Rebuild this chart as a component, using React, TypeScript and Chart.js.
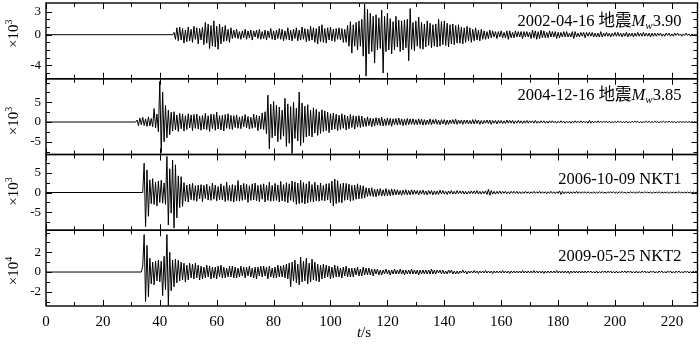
import React, { useEffect, useRef } from "react";
import { Chart, registerables } from "chart.js";
Chart.register(...registerables);

// ---- axis ticks ----
const xLabelTicks = [0, 20, 40, 60, 80, 100, 120, 140, 160, 180, 200, 220];
const xTickMarks = [0, 10, 20, 30, 40, 50, 60, 70, 80, 90, 100, 110, 120, 130, 140, 150, 160, 170, 180, 190, 200, 210, 220];
const xMin = 0;
const xMax = 229;

const yMins = [-5.74, -8.25, -9.53, -3.45];
const yMaxs = [4.13, 10.98, 9.6, 4.24];
const yLabelTicks = [[3, 0, -4], [5, 0, -5], [5, 0, -5], [2, 0, -2]];
const yTickMarks = [
  [3, 2, 1, 0, -1, -2, -3, -4, -5],
  [10, 7.5, 5, 2.5, 0, -2.5, -5, -7.5],
  [7.5, 5, 2.5, 0, -2.5, -5, -7.5],
  [4, 3, 2, 1, 0, -1, -2, -3],
];
const yExponents = ["3", "3", "3", "4"];

// ---- event labels ----
const eventDates = ["2002-04-16", "2004-12-16", "2006-10-09", "2009-05-25"];
const eventNames = ["地震", "地震", "NKT1", "NKT2"];
const eventMagnitudes = ["3.90", "3.85", "", ""];

// ---- waveforms (sampled every 0.5 s after onset; zero before onset) ----
const sampleStep = 0.5;
const onsets = [44.5, 31.5, 34, 33.5];

const wave1 = [
  0.3, -0.6, 0.9, -0.8, 1.0, -0.7, 0.8, -1.1, 0.6, -0.9, 1.0,
  -0.8, 0.7, -1.0, 1.1, -0.6, 0.9, -1.2, 0.8, -0.7, 1.0,
  -1.3, 1.6, -1.1, 1.4, -1.8, 1.2, -1.5, 1.8, -1.6, 1.1, -1.9, 1.4,
  -1.2, 1.0, -0.9, 1.2, -0.8, 0.7, -1.0, 0.9,
  -0.5, 0.6, -0.4, 0.7, -0.5, 0.4, -0.6, 0.5, -0.4, 0.7, -0.6, 0.5, -0.4, 0.6, -0.7, 0.5, -0.3, 0.6, -0.5, 0.7, -0.6, 0.4, -0.5, 0.6, -0.7, 0.5, -0.4, 0.8, -0.6, 0.5,
  -0.7, 0.6, -0.5, 0.8, -0.6, 0.7, -0.8, 0.5, -0.6, 0.9, -0.7, 0.6, -0.8, 0.7, -0.5, 0.9, -0.8, 0.6, -0.7, 1.0, -0.6, 0.8, -0.9, 0.7, -0.8, 1.1, -0.7, 0.9, -1.0, 0.8,
  -1.2, 1.1, -0.9, 1.3, -1.0, 0.8, -1.1, 0.9, -0.7, 1.0, -0.8, 0.7, -0.9, 0.8, -0.6, 0.9, -0.7, 0.8, -1.0, 0.7,
  -1.0, 1.2, -1.5, 1.7, -2.4, 1.3, -1.5, 1.6, -2.0, 1.8,
  -1.5, 2.0, -2.8, 4.0, -5.4, 3.3, -2.5, 2.8, -2.2, 2.4, -3.7, 2.6, -2.0, 2.2, -1.8, 3.2, -5.0, 2.4, -2.2, 2.8,
  -2.0, 2.1, -2.5, 1.7, -2.0, 2.4, -1.6, 1.9, -2.2, 1.8, -2.0, 1.9, -1.7, 2.0, -3.4, 3.4, -1.9, 1.6, -2.1, 1.8,
  -1.5, 2.3, -1.8, 1.6, -1.9, 1.4, -1.6, 1.8, -1.4, 1.5, -1.7, 1.3, -1.5, 1.4,
  -1.6, 2.0, -1.5, 1.7, -1.3, 1.8, -1.4, 1.5, -1.6, 1.3, -1.2, 1.4, -1.3, 1.2, -1.1, 1.3,
  -1.1, 1.0, -1.2, 0.9, -1.0, 1.1, -0.8, 0.9, -1.0, 0.7, -0.8, 0.9, -0.7, 0.6, -0.8, 0.7,
  -0.6, 0.5, -0.6, 0.4, -0.5, 0.6, -0.4, 0.5, -0.3, 0.4, -0.5, 0.4, -0.3, 0.5, -0.4, 0.3, -0.4, 0.5, -0.6, 0.5, -0.4, 0.3, -0.4, 0.5, -0.3, 0.4, -0.3, 0.4, -0.5, 0.4, -0.3, 0.4, -0.3, 0.3,
  -0.5, 0.6, -0.4, 0.5, -0.6, 0.4, -0.5, 0.6, -0.4, 0.5, -0.4, 0.3, -0.4, 0.5, -0.3, 0.4, -0.3, 0.4, -0.5, 0.3, -0.4, 0.3, -0.3, 0.4,
  -0.3, 0.4, -0.3, 0.2, -0.3, 0.4, -0.5, 0.4, -0.3, 0.2, -0.3, 0.3, -0.2, 0.3, -0.4, 0.3, -0.2, 0.3, -0.2, 0.3, -0.3, 0.2, -0.3, 0.2, -0.3, 0.4, -0.3, 0.2, -0.2, 0.3, -0.2, 0.2, -0.3, 0.2, -0.2, 0.3,
  -0.2, 0.3, -0.2, 0.2, -0.3, 0.2, -0.2, 0.3, -0.3, 0.2, -0.2, 0.2, -0.3, 0.2, -0.2, 0.3, -0.2, 0.2, -0.2, 0.3, -0.2, 0.2, -0.2, 0.2, -0.3, 0.2, -0.2, 0.2, -0.2, 0.2,
  -0.1, 0.2, -0.2, 0.1, -0.2, 0.2, -0.1, 0.2, -0.2, 0.1, -0.2, 0.2, -0.1, 0.2, -0.1, 0.1, -0.2, 0.1, -0.1, 0.2, -0.1, 0.1, -0.2, 0.1, -0.1, 0.1, -0.1, 0.1, -0.1, 0.1,
];

const wave2 = [
  0.5, -0.9, 1.0, -0.7, 1.2, -0.9, 0.8, -1.1, 1.3, -1.0, 0.9, -1.2,
  3.4, -1.5, 2.0, -2.5,
  10.3, -7.8, 7.6, -5.0, 4.2, -4.0, 3.0, -3.2, 2.5,
  -2.3, 2.6, -2.0, 1.8, -2.4, 2.2, -1.7, 2.0, -2.3, 1.6, -1.9, 2.1, -1.5, 1.8, -2.2, 1.9, -1.6, 2.0, -1.8, 1.5, -2.1, 1.7,
  -1.8, 2.2, -1.9, 1.6, -2.4, 2.0, -1.7, 1.9, -2.1, 2.5, -1.8, 1.6, -2.0, 1.7, -2.3, 1.9, -1.6, 2.1, -1.8, 1.7,
  -1.9, 1.6, -1.4, 1.8, -1.6, 1.3, -1.7, 1.5, -1.2, 1.9, -1.5, 1.4, -1.8, 1.2, -1.6, 2.0, -1.4, 1.7, -2.2, 1.5, -1.8, 2.3, -1.9, 2.6,
  -3.0, 6.8, -6.8, 4.5, -4.0, 5.2, -3.5, 4.2, -5.0, 3.8, -4.4, 3.0, -3.6, 6.0, -6.2, 4.6, -5.4, 3.9, -8.0, 5.0, -4.2, 3.5, -4.8, 7.6, -6.0, 4.8, -5.2, 4.0, -3.8, 4.4,
  -3.5, 3.0, -3.8, 3.6, -2.8, 3.2, -3.4, 2.6, -2.9, 3.1, -2.4, 2.8, -2.2, 2.5, -2.7, 2.1,
  -2.0, 2.3, -1.8, 2.0, -2.2, 1.7, -1.9, 2.1, -1.6, 1.8, -2.0, 1.5, -1.7, 1.9, -1.4, 1.6, -1.8, 1.5, -1.3, 1.6, -1.4, 1.5,
  -1.2, 1.0, -1.1, 1.3, -0.9, 1.0, -1.2, 0.9, -1.0, 1.1, -0.8, 1.0, -0.9, 1.2, -1.0, 0.8, -0.9, 1.0, -0.8, 0.9, -1.1, 0.8, -0.7, 0.9, -0.8, 1.0, -0.7, 0.8, -0.9, 0.7, -0.8, 0.9, -0.7, 0.8, -0.6, 0.8, -0.7, 0.6,
  -0.7, 0.8, -0.6, 0.7, -0.8, 0.6, -0.7, 0.5, -0.6, 0.8, -0.7, 0.6, -0.5, 0.7, -0.6, 0.5, -0.7, 0.6, -0.5, 0.6, -0.7, 0.5, -0.6, 0.5, -0.4, 0.6, -0.5, 0.7, -0.6, 0.5, -0.4, 0.5, -0.6, 0.5, -0.4, 0.5, -0.5, 0.4, -0.5, 0.6,
  -0.5, 0.6, -0.4, 0.5, -0.6, 0.4, -0.5, 0.4, -0.3, 0.5, -0.4, 0.5, -0.6, 0.4, -0.3, 0.4, -0.5, 0.4, -0.3, 0.4, -0.4, 0.3, -0.4, 0.5, -0.3, 0.4, -0.3, 0.4, -0.4, 0.3, -0.3, 0.4, -0.3, 0.3, -0.4, 0.3, -0.3, 0.4, -0.3, 0.3, -0.2, 0.3, -0.3, 0.4, -0.3, 0.2, -0.3, 0.3, -0.2, 0.3,
  -0.3, 0.2, -0.3, 0.3, -0.2, 0.3, -0.2, 0.2, -0.3, 0.2, -0.2, 0.3, -0.2, 0.2, -0.3, 0.2, -0.2, 0.2, -0.3, 0.2, -0.2, 0.3, -0.2, 0.2, -0.2, 0.3, -0.2, 0.2, -0.2, 0.2, -0.3, 0.4, -0.3, 0.2, -0.2, 0.2, -0.2, 0.3, -0.2, 0.2, -0.2, 0.2, -0.1, 0.2, -0.2, 0.2, -0.2, 0.1, -0.2, 0.2,
  -0.2, 0.2, -0.1, 0.2, -0.2, 0.1, -0.2, 0.2, -0.2, 0.1, -0.2, 0.2, -0.1, 0.2, -0.1, 0.2, -0.2, 0.1, -0.2, 0.1, -0.1, 0.2, -0.1, 0.2, -0.2, 0.1, -0.1, 0.2, -0.1, 0.1, -0.2, 0.1, -0.1, 0.2, -0.1, 0.1, -0.1, 0.2, -0.1, 0.1, -0.1, 0.1, -0.2, 0.1, -0.1, 0.1, -0.1, 0.1, -0.1, 0.1, -0.1, 0.1, -0.1, 0.1, -0.1, 0.1, -0.1, 0.1, -0.1, 0.1,
];

const wave3 = [
  7.4, -8.6, 5.7, -6.0,
  3.2, -2.8, 3.5, -3.0, 2.6, -3.4, 2.9, -2.5, 3.1, -2.7, 2.4,
  -3.0, 9.1, -8.2, 6.0, -5.2, 8.2, -9.0, 7.0, -6.4,
  4.2, -3.8, 4.0, -3.5,
  2.5, -2.2, 1.9, -2.4, 2.1, -1.8, 2.3, -2.0, 1.7, -2.2, 1.9, -1.6, 2.0, -2.3, 1.8, -1.5, 2.1, -1.9, 1.6, -2.0, 2.4, -1.7, 1.9, -2.1, 1.5, -1.8, 2.2, -1.9, 1.7, -2.3, 2.6, -2.0, 1.8, -2.2,
  2.0, -2.4, 1.8, -2.1, 3.0, -2.2, 1.9, -2.0, 2.3, -1.8, 2.1, -2.5, 1.7, -2.0, 2.2, -1.9, 2.4, -2.1, 1.8, -2.3, 2.0, -1.7, 2.2, -2.4, 1.9, -2.0, 2.6, -2.2, 1.8, -2.1, 2.3, -2.0, 1.9, -2.4, 2.8, -2.1, 2.0, -2.3, 2.5, -2.6, 2.2, -2.0, 2.9, -2.4,
  2.7, -3.0, 2.4, -2.8, 3.1, -2.6, 2.5, -2.9, 2.2, -2.6, 2.8, -2.3, 2.0, -2.4, 2.6, -2.1, 1.9, -2.2, 2.4, -2.0, 1.8, -2.1, 2.2, -1.9, 2.3, -2.6,
  2.9, -3.4, 3.4, -2.8, 3.0, -2.5, 2.2, -2.6, 2.4, -2.0, 2.3, -1.9, 2.1, -2.2, 1.8, -2.0, 1.9, -1.7, 2.2, -1.6, 1.8, -1.5, 1.7, -1.4,
  1.2, -1.0, 1.1, -0.9, 1.2, -1.0, 0.8, -1.1, 0.9, -0.8, 1.0, -0.9, 0.7, -0.9, 1.0, -0.8, 0.7, -0.8, 0.9, -0.7, 0.8, -0.6,
  0.7, -0.6, 0.5, -0.7, 0.6, -0.5, 0.7, -0.6, 0.5, -0.6, 0.7, -0.5, 0.6, -0.4, 0.5, -0.6, 0.5, -0.4, 0.6, -0.5, 0.4, -0.6, 0.5, -0.4, 0.5, -0.6, 0.4, -0.5, 0.4, -0.5, 0.6, -0.4, 0.5, -0.4, 0.3, -0.5, 0.4, -0.3, 0.5, -0.4, 0.3, -0.4, 0.5, -0.3, 0.4, -0.3, 0.4, -0.4, 0.3, -0.4, 0.3, -0.3, 0.4, -0.3,
  0.4, -0.3, 0.5, -0.4, 0.3, -0.4, 0.3, -0.3, 0.4, -0.5, 0.8, -0.7, 0.5, -0.4, 0.3, -0.4, 0.3, -0.3, 0.4, -0.3, 0.3, -0.2, 0.3, -0.3, 0.2, -0.3, 0.3, -0.2, 0.3, -0.2, 0.3, -0.3, 0.2, -0.3, 0.2, -0.2, 0.3, -0.2, 0.2, -0.3, 0.2, -0.2, 0.3, -0.2, 0.2, -0.2, 0.3, -0.2, 0.2, -0.2,
  0.2, -0.3, 0.2, -0.2, 0.3, -0.2, 0.2, -0.3, 0.2, -0.2, 0.4, -0.5, 0.3, -0.3, 0.2, -0.2, 0.2, -0.3, 0.2, -0.2, 0.2, -0.2, 0.3, -0.2, 0.2, -0.2, 0.2, -0.1, 0.2, -0.2, 0.2, -0.2, 0.1, -0.2, 0.2, -0.2, 0.1, -0.2, 0.2, -0.1, 0.2, -0.2, 0.1, -0.2, 0.2, -0.1, 0.2, -0.1, 0.2, -0.2,
  0.1, -0.2, 0.2, -0.1, 0.2, -0.1, 0.1, -0.2, 0.1, -0.1, 0.2, -0.1, 0.1, -0.2, 0.1, -0.1, 0.2, -0.1, 0.1, -0.1, 0.2, -0.1, 0.1, -0.1, 0.1, -0.2, 0.1, -0.1, 0.1, -0.1, 0.2, -0.1, 0.1, -0.1, 0.1, -0.1, 0.1, -0.2, 0.1, -0.1, 0.1, -0.1, 0.1, -0.1, 0.2, -0.1, 0.1, -0.1, 0.1, -0.1, 0.1, -0.1, 0.1, -0.1, 0.1, -0.1, 0.1, -0.1, 0.1, -0.1,
];

const wave4 = [
  0.6, 3.8, -3.0, 2.7,
  -2.5, 1.4, -1.2, 1.0, -1.3, 1.1, -0.9, 1.2, -1.0,
  1.1, -2.4, 1.6, -1.8, 3.8, -3.4, 2.0,
  -1.9, 1.2, -1.5, 1.3, -1.1, 1.2, -0.9,
  1.0, -0.8, 0.9, -1.0, 0.7, -0.8, 0.9, -0.6, 0.8, -0.7, 0.9, -0.6, 0.7, -0.8, 0.6, -0.7, 0.5, -0.6, 0.7, -0.5, 0.6, -0.7, 0.5, -0.6, 0.5, -0.7, 0.6, -0.5, 0.7, -0.6, 0.5, -0.6, 0.4, -0.5, 0.6, -0.5, 0.6, -0.6,
  0.5, -0.6, 0.4, -0.5, 0.6, -0.4, 0.5, -0.6, 0.5, -0.4, 0.6, -0.5, 0.4, -0.6, 0.5, -0.7, 0.5, -0.4, 0.6, -0.5, 0.6, -0.4, 0.5, -0.7, 0.6, -0.5, 0.4, -0.6, 0.5, -0.6, 0.7, -0.5, 0.6, -0.5, 0.7, -0.6, 0.8, -0.7, 0.9,
  -1.5, 1.0, -0.9, 1.2, -1.1, 0.8, -1.3, 1.5, -1.0, 1.1, -0.9, 1.4, -1.2, 0.9, -1.0, 1.3, -0.8, 1.0, -0.9, 0.8, -1.0, 0.7,
  -0.7, 0.8, -0.6, 0.7, -0.5, 0.6, -0.7, 0.5, -0.6, 0.7, -0.5, 0.6, -0.5, 0.4, -0.6, 0.5, -0.4, 0.6, -0.5, 0.4, -0.5, 0.4,
  -0.5, 0.4, -0.3, 0.5, -0.4, 0.3, -0.4, 0.5, -0.3, 0.4, -0.3, 0.4, -0.3, 0.3, -0.4, 0.3, -0.2, 0.3, -0.3, 0.2, -0.3, 0.2, -0.2, 0.3,
  -0.2, 0.2, -0.3, 0.2, -0.2, 0.3, -0.2, 0.2, -0.2, 0.3, -0.2, 0.2, -0.3, 0.2, -0.2, 0.2, -0.2, 0.3, -0.2, 0.2, -0.2, 0.2, -0.3, 0.2, -0.2, 0.2, -0.2, 0.2, -0.2, 0.2,
  -0.2, 0.3, -0.2, 0.2, -0.2, 0.2, -0.1, 0.2, -0.2, 0.2, -0.2, 0.1, -0.2, 0.2, -0.1, 0.2, -0.2, 0.1, -0.2, 0.1, -0.2, 0.1, -0.1, 0.2, -0.1, 0.1, -0.2, 0.1, -0.1, 0.1,
  -0.1, 0.15, -0.1, 0.1, -0.15, 0.1, -0.1, 0.1, -0.1, 0.15, -0.1, 0.1, -0.1, 0.1, -0.15, 0.1, -0.1, 0.1, -0.1, 0.1, -0.1, 0.15, -0.1, 0.1, -0.1, 0.1, -0.15, 0.1, -0.1, 0.1, -0.1, 0.1, -0.1, 0.1, -0.1, 0.15, -0.1, 0.1, -0.1, 0.1,
  -0.1, 0.1, -0.1, 0.15, -0.1, 0.1, -0.1, 0.1, -0.1, 0.1, -0.15, 0.1, -0.1, 0.1, -0.1, 0.1, -0.1, 0.1, -0.1, 0.15, -0.1, 0.1, -0.1, 0.1, -0.1, 0.1, -0.1, 0.1, -0.15, 0.1, -0.1, 0.1, -0.1, 0.1, -0.1, 0.1, -0.1, 0.1, -0.1, 0.1,
  -0.1, 0.1, -0.05, 0.1, -0.1, 0.05, -0.1, 0.1, -0.1, 0.05, -0.1, 0.1, -0.05, 0.1, -0.1, 0.1, -0.05, 0.1, -0.1, 0.05, -0.1, 0.1, -0.1, 0.05, -0.1, 0.1, -0.05, 0.1, -0.1, 0.1, -0.05, 0.1, -0.1, 0.05, -0.1, 0.1, -0.1, 0.05, -0.1, 0.1,
  -0.05, 0.1, -0.1, 0.05, -0.1, 0.1, -0.05, 0.1, -0.1, 0.05, -0.1, 0.1, -0.05, 0.1, -0.1, 0.05, -0.1, 0.1, -0.05, 0.1, -0.1, 0.05, -0.1, 0.1, -0.05, 0.1, -0.1, 0.05, -0.1, 0.1, -0.05, 0.1, -0.1, 0.05, -0.1, 0.1, -0.05, 0.1, -0.1, 0.05,
];

const waves = [wave1, wave2, wave3, wave4];

const SERIF = '"Liberation Serif", "Noto Sans CJK SC", serif';
const f = (style: string, size: number) => `${style} ${size}px ${SERIF}`;

function drawParts(ctx: CanvasRenderingContext2D, parts: { t: string; font: string; dy?: number }[], rightX: number, baseY: number) {
  let total = 0;
  parts.forEach((p) => {
    ctx.font = p.font;
    total += ctx.measureText(p.t).width;
  });
  let x = rightX - total;
  parts.forEach((p) => {
    ctx.font = p.font;
    ctx.fillText(p.t, x, baseY + (p.dy || 0));
    x += ctx.measureText(p.t).width;
  });
}

const panelPlugin = {
  id: "panelFrames",
  afterDraw(chart: any) {
    const ctx: CanvasRenderingContext2D = chart.ctx;
    const { left, right } = chart.chartArea;
    const xs = chart.scales.x;
    ctx.save();
    ctx.strokeStyle = "#000";
    ctx.fillStyle = "#000";
    ctx.textAlign = "left";
    ctx.textBaseline = "alphabetic";
    for (let k = 0; k < 4; k++) {
      const s = chart.scales["y" + (k + 1)];
      const top = s.top;
      const bottom = s.bottom;
      ctx.lineWidth = 1.4;
      ctx.strokeRect(left, top, right - left, bottom - top);
      ctx.lineWidth = 1;
      ctx.beginPath();
      xTickMarks.forEach((v) => {
        const px = Math.round(xs.getPixelForValue(v)) + 0.5;
        const len = v % 20 === 0 ? 6 : 4;
        ctx.moveTo(px, top);
        ctx.lineTo(px, top + len);
        ctx.moveTo(px, bottom);
        ctx.lineTo(px, bottom - len);
      });
      yTickMarks[k].forEach((v) => {
        const py = Math.round(s.getPixelForValue(v)) + 0.5;
        const len = yLabelTicks[k].includes(v) ? 6 : 4;
        ctx.moveTo(left, py);
        ctx.lineTo(left + len, py);
        ctx.moveTo(right, py);
        ctx.lineTo(right - len, py);
      });
      ctx.stroke();

      // y title ×10^n
      const cy = s.getPixelForValue(0) - 1;
      ctx.save();
      ctx.translate(14, cy);
      ctx.rotate(-Math.PI / 2);
      ctx.textBaseline = "middle";
      ctx.font = f("normal", 15);
      const w1 = ctx.measureText("×10").width;
      ctx.font = f("normal", 10);
      const w2 = ctx.measureText(yExponents[k]).width;
      const sx = -(w1 + w2) / 2;
      ctx.font = f("normal", 15);
      ctx.fillText("×10", sx, 0);
      ctx.font = f("normal", 10);
      ctx.fillText(yExponents[k], sx + w1, -5);
      ctx.restore();

      // event label
      const baseOffsets = [23, 21, 29, 31];
      const parts: { t: string; font: string; dy?: number }[] = [
        { t: eventDates[k] + " " + eventNames[k], font: f("normal", 16.5) },
      ];
      if (eventMagnitudes[k]) {
        parts.push({ t: "M", font: f("italic", 16.5) });
        parts.push({ t: "w", font: f("italic", 11), dy: 3 });
        parts.push({ t: eventMagnitudes[k], font: f("normal", 16.5) });
      }
      drawParts(ctx, parts, right - 16, top + baseOffsets[k]);
    }
    // x axis title
    ctx.font = f("italic", 15);
    const wt = ctx.measureText("t").width;
    ctx.font = f("normal", 15);
    const ws = ctx.measureText("/s").width;
    const cx = 364 - (wt + ws) / 2;
    ctx.font = f("italic", 15);
    ctx.fillText("t", cx, 337);
    ctx.font = f("normal", 15);
    ctx.fillText("/s", cx + wt, 337);
    ctx.restore();
  },
};

export default function App() {
  const ref = useRef<HTMLCanvasElement | null>(null);
  useEffect(() => {
    if (!ref.current) return;
    const datasets = waves.map((w, k) => ({
      data: [
        { x: 0, y: 0 },
        { x: onsets[k], y: 0 },
        ...w.map((v, i) => ({ x: onsets[k] + (i + 1) * sampleStep, y: v })),
      ],
      yAxisID: "y" + (k + 1),
      borderColor: "#000",
      borderWidth: 1,
      pointRadius: 0,
      tension: 0,
      fill: false,
    }));
    const yScale = (k: number) => ({
      type: "linear" as const,
      position: "left" as const,
      stack: "panels",
      stackWeight: 1,
      weight: 4 - k,
      min: yMins[k],
      max: yMaxs[k],
      grid: { display: false, drawTicks: false },
      border: { display: false },
      afterBuildTicks: (scale: any) => {
        scale.ticks = yLabelTicks[k].map((v) => ({ value: v }));
      },
      afterFit: (scale: any) => {
        scale.width = 46;
        scale.paddingTop = 0;
        scale.paddingBottom = 0;
      },
      ticks: {
        padding: 5,
        color: "#000",
        font: { family: SERIF, size: 13 },
        callback: (v: any) => String(v),
      },
    });
    const chart = new Chart(ref.current, {
      type: "line",
      data: { datasets },
      plugins: [panelPlugin],
      options: {
        responsive: false,
        animation: false,
        devicePixelRatio: 1,
        layout: { padding: { top: 3, right: 2.5, left: 0, bottom: 0 } },
        plugins: { legend: { display: false }, tooltip: { enabled: false } },
        scales: {
          x: {
            type: "linear",
            min: xMin,
            max: xMax,
            grid: { display: false, drawTicks: false },
            border: { display: false },
            afterBuildTicks: (scale: any) => {
              scale.ticks = xLabelTicks.map((v) => ({ value: v }));
            },
            afterFit: (scale: any) => {
              scale.height = 40;
              scale.paddingLeft = 0;
              scale.paddingRight = 0;
            },
            ticks: {
              padding: 7,
              maxRotation: 0,
              color: "#000",
              font: { family: SERIF, size: 15 },
              callback: (v: any) => String(v),
            },
          },
          y1: yScale(0),
          y2: yScale(1),
          y3: yScale(2),
          y4: yScale(3),
        } as any,
      },
    });
    return () => chart.destroy();
  }, []);
  return (
    <div style={{ position: "fixed", left: 0, top: 0, width: 700, height: 346, background: "#fff" }}>
      <canvas ref={ref} width={700} height={346} style={{ width: 700, height: 346, display: "block" }} />
    </div>
  );
}
